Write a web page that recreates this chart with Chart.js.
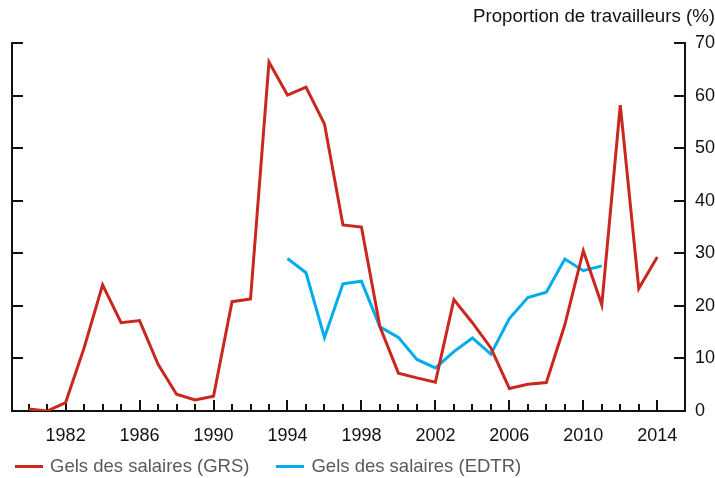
<!DOCTYPE html>
<html>
<head>
<meta charset="utf-8">
<script src="https://cdn.jsdelivr.net/npm/chart.js@4"></script>
<style>
  html, body { margin: 0; padding: 0; background: #fff; }
  #wrap { position: relative; width: 715px; height: 478px; }
  #legende { position: absolute; left: 15px; top: 455px; font: 18.5px "Liberation Sans", Arial, sans-serif; color: #5a5a5a; display: flex; }
  .item { display: flex; align-items: center; margin-right: 27px; }
  .trait { width: 28px; height: 3px; margin-right: 7px; }
</style>
</head>
<body>
<div id="wrap">
  <canvas id="graphique" width="715" height="478"></canvas>
  <div id="legende"></div>
</div>
<script>
// Données
const annees = [1980, 1981, 1982, 1983, 1984, 1985, 1986, 1987, 1988, 1989,
                1990, 1991, 1992, 1993, 1994, 1995, 1996, 1997, 1998, 1999,
                2000, 2001, 2002, 2003, 2004, 2005, 2006, 2007, 2008, 2009,
                2010, 2011, 2012, 2013, 2014];
const gelsGRS = [0.4, 0, 1.6, 12, 24, 16.8, 17.2, 8.9, 3.2, 2.1,
                 2.8, 20.8, 21.3, 66.4, 60.1, 61.6, 54.6, 35.4, 35.0, 16,
                 7.2, 6.3, 5.5, 21.2, 16.8, 12, 4.3, 5.1, 5.4, 16.4,
                 30.5, 20.2, 58.2, 23.3, 29.3];
const gelsEDTR = [null, null, null, null, null, null, null, null, null, null,
                  null, null, null, null, 29.0, 26.3, 14.0, 24.2, 24.7, 16.0,
                  14.0, 9.8, 8.2, 11.3, 13.9, 10.8, 17.6, 21.6, 22.6, 28.9,
                  26.7, 27.6, null, null, null];
const etiquettesAnnees = [1982, 1986, 1990, 1994, 1998, 2002, 2006, 2010, 2014];
const ticksY = [0, 10, 20, 30, 40, 50, 60, 70];

const series = [
  { nom: 'Gels des salaires (GRS)', valeurs: gelsGRS, couleur: '#c9281f' },
  { nom: 'Gels des salaires (EDTR)', valeurs: gelsEDTR, couleur: '#00adec' }
];

const police = '"Liberation Sans", Arial, sans-serif';

// Petits traits vers l'intérieur pour les axes
const traitsAxes = {
  id: 'traitsAxes',
  beforeDatasetsDraw(chart) {
    const ctx = chart.ctx;
    const x = chart.scales.x, y = chart.scales.y;
    const area = chart.chartArea;
    ctx.save();
    ctx.strokeStyle = '#111';
    ctx.lineWidth = 2;
    ctx.beginPath();
    annees.forEach(a => {
      const px = Math.round(x.getPixelForValue(a));
      const long = etiquettesAnnees.includes(a) ? 11 : 7;
      ctx.moveTo(px, area.bottom);
      ctx.lineTo(px, area.bottom - long);
    });
    ticksY.forEach(v => {
      const py = Math.round(y.getPixelForValue(v));
      ctx.moveTo(area.left, py);
      ctx.lineTo(area.left + 11, py);
      ctx.moveTo(area.right, py);
      ctx.lineTo(area.right - 11, py);
    });
    ctx.stroke();
    ctx.restore();
  }
};

const ctx = document.getElementById('graphique').getContext('2d');
const graphique = new Chart(ctx, {
  type: 'line',
  data: {
    datasets: series.map(s => ({
      label: s.nom,
      data: annees.map((a, i) => ({ x: a, y: s.valeurs[i] })),
      borderColor: s.couleur,
      backgroundColor: s.couleur,
      borderWidth: 3,
      pointRadius: 0,
      tension: 0,
      spanGaps: false,
      yAxisID: 'y'
    }))
  },
  options: {
    responsive: false,
    animation: false,
    layout: { padding: { top: 0, left: 0, right: 0, bottom: 0 } },
    plugins: {
      legend: { display: false },
      tooltip: { enabled: false },
      title: {
        display: true,
        text: 'Proportion de travailleurs (%)',
        align: 'end',
        color: '#111',
        font: { family: police, size: 18.7, weight: 'normal' },
        padding: { top: 5.5, bottom: 15.1 }
      }
    },
    scales: {
      x: {
        type: 'linear',
        min: 1979.1,
        max: 2015.5,
        afterBuildTicks: sc => { sc.ticks = etiquettesAnnees.map(v => ({ value: v })); },
        ticks: {
          color: '#111',
          font: { family: police, size: 18 },
          padding: 14,
          maxRotation: 0,
          autoSkip: false,
          callback: v => String(v)
        },
        grid: { display: false, drawTicks: false },
        border: { display: true, color: '#111', width: 2 },
        afterFit: sc => { sc.height = 67; }
      },
      y: {
        position: 'right',
        min: 0,
        max: 70,
        afterBuildTicks: sc => { sc.ticks = ticksY.map(v => ({ value: v })); },
        ticks: {
          color: '#111',
          font: { family: police, size: 18 },
          padding: 10
        },
        grid: { display: false, drawTicks: false },
        border: { display: true, color: '#111', width: 2 },
        afterFit: sc => { sc.width = 30; }
      },
      yGauche: {
        position: 'left',
        min: 0,
        max: 70,
        ticks: { display: false },
        grid: { display: false, drawTicks: false },
        border: { display: true, color: '#111', width: 2 },
        afterFit: sc => { sc.width = 12; }
      }
    }
  },
  plugins: [traitsAxes]
});

// Légende en bas
const legende = document.getElementById('legende');
series.forEach(s => {
  const item = document.createElement('div');
  item.className = 'item';
  const trait = document.createElement('span');
  trait.className = 'trait';
  trait.style.background = s.couleur;
  const texte = document.createElement('span');
  texte.textContent = s.nom;
  item.appendChild(trait);
  item.appendChild(texte);
  legende.appendChild(item);
});
</script>
</body>
</html>
